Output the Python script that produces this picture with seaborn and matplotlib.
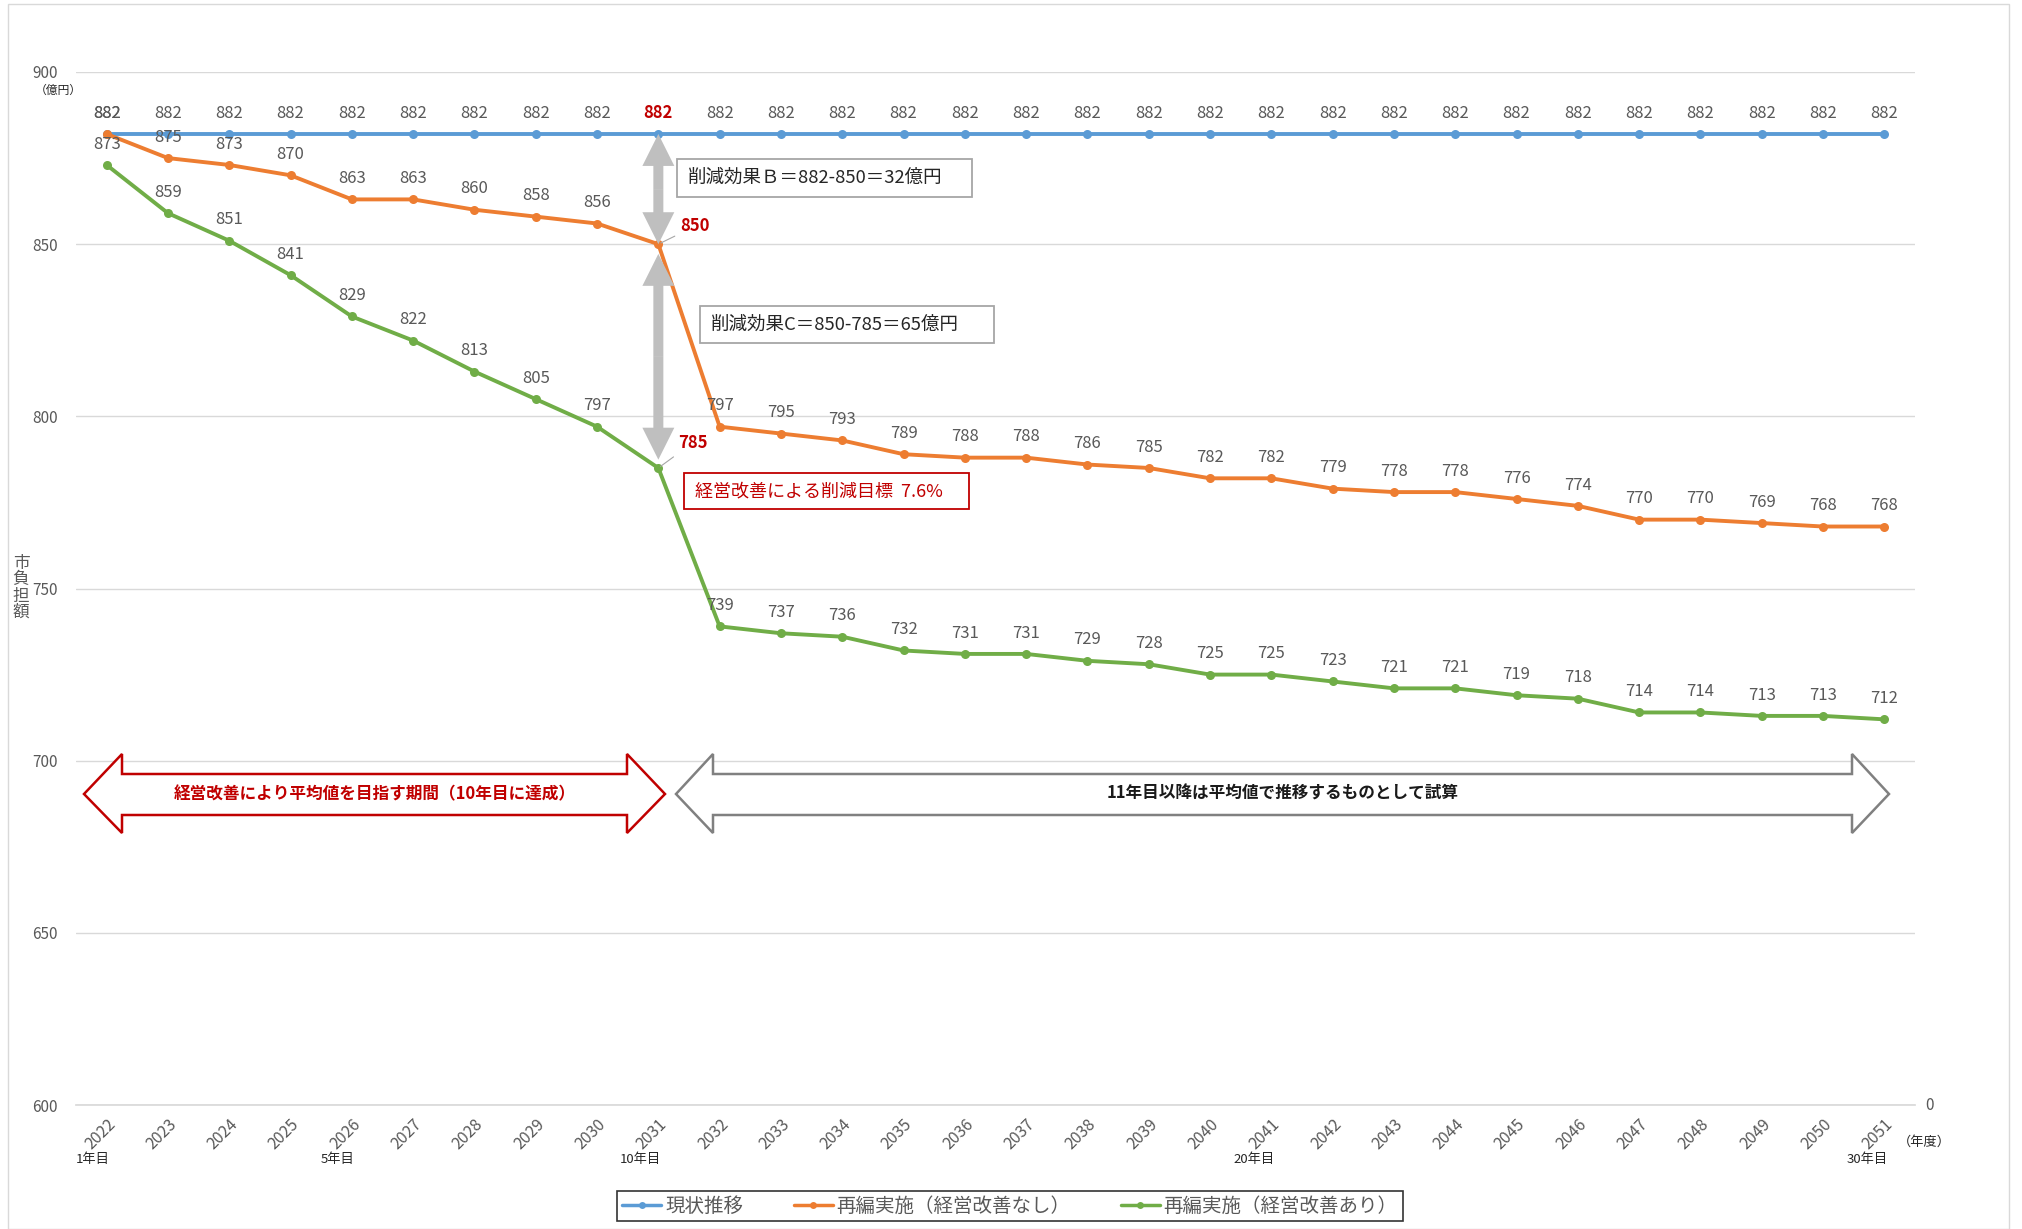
import numpy as np
import pandas as pd
import matplotlib
matplotlib.use("Agg")
import matplotlib.pyplot as plt
import seaborn as sns
from matplotlib.patches import Polygon, Rectangle, FancyArrowPatch
from matplotlib.lines import Line2D

# ---------------- data ----------------
years = [2022, 2023, 2024, 2025, 2026, 2027, 2028, 2029, 2030, 2031,
         2032, 2033, 2034, 2035, 2036, 2037, 2038, 2039, 2040, 2041,
         2042, 2043, 2044, 2045, 2046, 2047, 2048, 2049, 2050, 2051]
status_quo = [882, 882, 882, 882, 882, 882, 882, 882, 882, 882,
              882, 882, 882, 882, 882, 882, 882, 882, 882, 882,
              882, 882, 882, 882, 882, 882, 882, 882, 882, 882]
reorg_no_improve = [882, 875, 873, 870, 863, 863, 860, 858, 856, 850,
                    797, 795, 793, 789, 788, 788, 786, 785, 782, 782,
                    779, 778, 778, 776, 774, 770, 770, 769, 768, 768]
reorg_improve = [873, 859, 851, 841, 829, 822, 813, 805, 797, 785,
                 739, 737, 736, 732, 731, 731, 729, 728, 725, 725,
                 723, 721, 721, 719, 718, 714, 714, 713, 713, 712]
series_names = ["現状推移", "再編実施（経営改善なし）", "再編実施（経営改善あり）"]
series_colors = ["#5B9BD5", "#ED7D31", "#70AD47"]
year_marks = {0: "1年目", 4: "5年目", 9: "10年目", 19: "20年目", 29: "30年目"}
y_ticks = [600, 650, 700, 750, 800, 850, 900]

# ---------------- style ----------------
sns.set_theme(style="white")
plt.rcParams["font.family"] = ["Noto Sans CJK JP", "DejaVu Sans"]
GRAY = "#595959"

W, H = 2022, 1229
fig = plt.figure(figsize=(W / 100, H / 100), dpi=100)
ax = fig.add_axes([76 / W, 1 - 1105 / H, (1915 - 76) / W, (1105 - 72) / H])


def fx(px):
    return px / W


def fy(py):
    return 1 - py / H


idx = list(range(len(years)))
df = pd.DataFrame({
    "idx": idx * 3,
    "value": status_quo + reorg_no_improve + reorg_improve,
    "series": np.repeat(series_names, len(years)),
})
sns.lineplot(data=df, x="idx", y="value", hue="series", hue_order=series_names,
             palette=series_colors, marker="o", markersize=6.5, markeredgewidth=0,
             linewidth=2.8, legend=False, sort=False, ax=ax)

ax.set_xlim(-0.5, len(years) - 0.5)
ax.set_ylim(600, 900)
ax.set_yticks(y_ticks)
ax.set_yticklabels([str(t) for t in y_ticks], fontsize=11, color=GRAY)
ax.tick_params(axis="y", length=0, pad=13)
ax.set_xticks(idx)
ax.set_xticklabels([str(y) for y in years], rotation=45, ha="right",
                   rotation_mode="anchor", fontsize=11.5, color=GRAY)
ax.set_xticks([i - 0.5 for i in range(len(years) + 1)], minor=True)
ax.tick_params(axis="x", which="major", length=0, pad=8)
ax.tick_params(axis="x", which="minor", length=5, color="#D9D9D9", width=1)
ax.grid(axis="y", color="#D9D9D9", lw=1)
ax.grid(axis="x", visible=False)
for s in ["left", "right", "top"]:
    ax.spines[s].set_visible(False)
ax.spines["bottom"].set_color("#D9D9D9")
ax.set_xlabel("")
ax.set_ylabel("")

# ---------------- data labels ----------------
for name, vals in zip(series_names, [status_quo, reorg_no_improve, reorg_improve]):
    for i, v in enumerate(vals):
        if i == 9:
            continue
        ax.annotate(f"{v}", (i, v), xytext=(0, 15), textcoords="offset points",
                    ha="center", va="center", fontsize=12, color=GRAY)

# highlighted labels at year 10
ax.annotate(f"{status_quo[9]}", (9, status_quo[9]), xytext=(0, 15), textcoords="offset points",
            ha="center", va="center", fontsize=12, color="#C00000", fontweight="bold")
ax.annotate(f"{reorg_no_improve[9]}", (9, reorg_no_improve[9]), xytext=(16, 13),
            textcoords="offset points", ha="left", va="center", fontsize=12,
            color="#C00000", fontweight="bold",
            arrowprops=dict(arrowstyle="-", color="#A6A6A6", lw=0.8, shrinkA=2, shrinkB=2))
ax.annotate(f"{reorg_improve[9]}", (9, reorg_improve[9]), xytext=(14, 18),
            textcoords="offset points", ha="left", va="center", fontsize=12,
            color="#C00000", fontweight="bold",
            arrowprops=dict(arrowstyle="-", color="#A6A6A6", lw=0.8, shrinkA=2, shrinkB=2))

# ---------------- gray double arrows at year 10 ----------------
arrow_style = "simple,head_length=1.15,head_width=1.15,tail_width=0.36"


def double_arrow(y_top, y_bot, shrink_top, shrink_bot):
    mid = (y_top + y_bot) / 2
    for end, shr in [(y_top, shrink_top), (y_bot, shrink_bot)]:
        ax.add_patch(FancyArrowPatch((9, mid), (9, end), arrowstyle=arrow_style,
                                     mutation_scale=20, color="#BFBFBF", lw=0,
                                     shrinkA=0, shrinkB=shr, zorder=4))


double_arrow(status_quo[9], reorg_no_improve[9], 0, 0)
double_arrow(reorg_no_improve[9], reorg_improve[9], 7, 6)

# ---------------- text boxes ----------------
def box(x0, y0, x1, y1, text, edge, tcolor, tx, size):
    fig.patches.append(Rectangle((fx(x0), fy(y1)), fx(x1) - fx(x0), fy(y0) - fy(y1),
                                 transform=fig.transFigure, facecolor="white",
                                 edgecolor=edge, lw=1.3, zorder=5))
    fig.text(fx(tx), fy((y0 + y1) / 2), text, ha="left", va="center",
             fontsize=size, color=tcolor, zorder=6)


box(677, 159, 972, 197, "削減効果Ｂ＝882-850＝32億円", "#A6A6A6", "#262626", 688, 13.3)
box(700, 306, 994, 343, "削減効果C＝850-785＝65億円", "#A6A6A6", "#262626", 711, 13.3)
box(684, 473, 969, 509, "経営改善による削減目標  7.6%", "#C00000", "#C00000", 695, 13)

# ---------------- block double arrows ----------------
def block_arrow(xl, xhl, xhr, xr, edge, text, tcolor):
    yc, ht, hb, st, sb = 794, 754, 833, 774, 815
    pts = [(xl, yc), (xhl, ht), (xhl, st), (xhr, st), (xhr, ht), (xr, yc),
           (xhr, hb), (xhr, sb), (xhl, sb), (xhl, hb)]
    fig.patches.append(Polygon([(fx(a), fy(b)) for a, b in pts], closed=True,
                               transform=fig.transFigure, facecolor="white",
                               edgecolor=edge, lw=1.8, zorder=5))
    fig.text(fx((xl + xr) / 2), fy(yc), text, ha="center", va="center",
             fontsize=12, fontweight="bold", color=tcolor, zorder=6)


block_arrow(84, 122, 627, 665, "#C00000", "経営改善により平均値を目指す期間（10年目に達成）", "#C00000")
block_arrow(676, 713, 1852, 1889, "#808080", "11年目以降は平均値で推移するものとして試算", "#1A1A1A")

# ---------------- axis annotations ----------------
for i, lab in year_marks.items():
    x_disp = ax.transData.transform((i, 600))[0]
    fig.text(x_disp / W + 3 / W, fy(1160), lab, ha="right", va="center",
             fontsize=9.5, color="#262626")
fig.text(fx(1898), fy(1142), "（年度）", ha="left", va="center", fontsize=9.5, color="#262626")
fig.text(fx(1930), fy(1105), "0", ha="center", va="center", fontsize=11, color=GRAY)
fig.text(fx(58), fy(90), "（億円）", ha="center", va="center", fontsize=8.5, color="#262626")
fig.text(fx(21), fy(588), "市\n負\n担\n額", ha="center", va="center", fontsize=12,
         color=GRAY, linespacing=0.95)

# outer frame
fig.patches.append(Rectangle((fx(8), 0), fx(2009) - fx(8), fy(4), transform=fig.transFigure,
                             facecolor="none", edgecolor="#D9D9D9", lw=1))

# ---------------- legend ----------------
handles = [Line2D([0], [0], color=c, lw=2.5, marker="o", markersize=5, markeredgewidth=0)
           for c in series_colors]
leg = fig.legend(handles, series_names, loc="center",
                 bbox_to_anchor=(fx(1010), fy(1206)), ncol=3, frameon=True,
                 fancybox=False, fontsize=14, handlelength=2.0, handletextpad=0.2,
                 columnspacing=2.6, borderpad=0.25)
leg.get_frame().set_edgecolor("black")
leg.get_frame().set_linewidth(1.2)
for t in leg.get_texts():
    t.set_color(GRAY)

fig.savefig("out.png", dpi=100)
